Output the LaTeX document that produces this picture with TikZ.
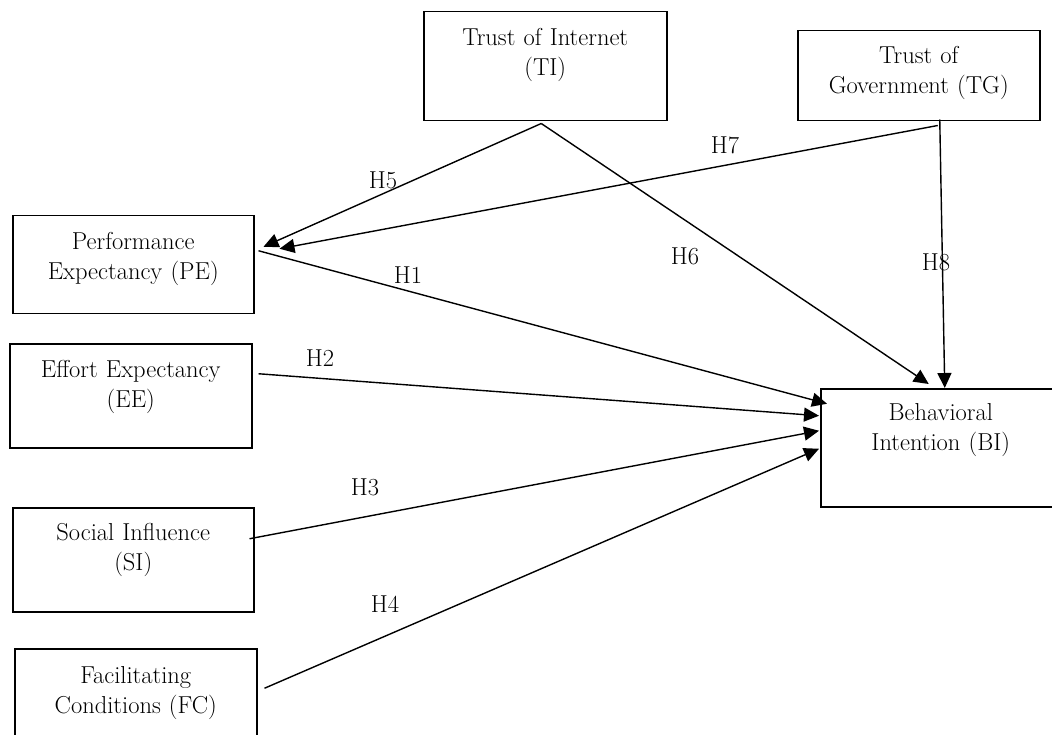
\documentclass[tikz,border=0pt]{standalone}
\usepackage{tikz}
\usetikzlibrary{arrows.meta}

\begin{document}
\begin{tikzpicture}[x=1pt, y=-1pt,
    every node/.style={font=\fontsize{24.5}{30}\selectfont},
    construct/.style={draw, line width=1.5pt, anchor=north west, align=center,
      inner sep=0pt},
    path/.style={line width=1.4pt, -{Triangle[length=15pt,width=14pt]}}]
    \useasboundingbox (0,0) rectangle (1052,735);
    % constructs
    \node[construct, text width=243pt, text height=34pt, text depth=75pt] (ti) at (423,11) {Trust of Internet\\(TI)};
    \node[construct, text width=242pt, text height=33pt, text depth=57pt] (tg) at (797,30) {Trust of\\Government (TG)};
    \node[construct, text width=241pt, text height=34pt, text depth=64pt] (pe) at (12,215) {Performance\\Expectancy (PE)};
    \node[construct, text width=242pt, text height=34pt, text depth=70pt] (ee) at (9,343) {Effort Expectancy\\(EE)};
    \node[construct, text width=241pt, text height=33pt, text depth=71pt] (si) at (12,507) {Social Influence\\(SI)};
    \node[construct, text width=242pt, text height=35pt, text depth=62pt] (fc) at (14,648) {Facilitating\\Conditions (FC)};
    \node[construct, text width=240pt, text height=32pt, text depth=86pt] (bi) at (820,388) {Behavioral\\Intention (BI)};
    % hypotheses
    \draw[path] ([shift={(4,-14)}]pe.east) -- ([shift={(7,-44)}]bi.west);
    \draw[path] ([shift={(6,-22)}]ee.east) -- ([shift={(-1,-32)}]bi.west);
    \draw[path] ([shift={(-5,-21)}]si.east) -- ([shift={(-1,-17)}]bi.west);
    \draw[path] ([shift={(7,-9)}]fc.east) -- ([shift={(-1,1)}]bi.west);
    \draw[path] ([shift={(-4,2)}]ti.south) -- ([shift={(9,-18)}]pe.east);
    \draw[path] ([shift={(-4,2)}]ti.south) -- ([shift={(-12,-4)}]bi.north);
    \draw[path] ([shift={(19,4)}]tg.south) -- ([shift={(25,-16)}]pe.east);
    \draw[path] ([shift={(21,-2)}]tg.south) -- ([shift={(4,0)}]bi.north);
    % labels
    \node (h1) at (408,275) {H1};
    \node (h2) at (320,358) {H2};
    \node (h3) at (365,487) {H3};
    \node (h4) at (385,604) {H4};
    \node (h5) at (383,180) {H5};
    \node (h6) at (685,256) {H6};
    \node (h7) at (725,145) {H7};
    \node (h8) at (936,262) {H8};
  \end{tikzpicture}
\end{document}
